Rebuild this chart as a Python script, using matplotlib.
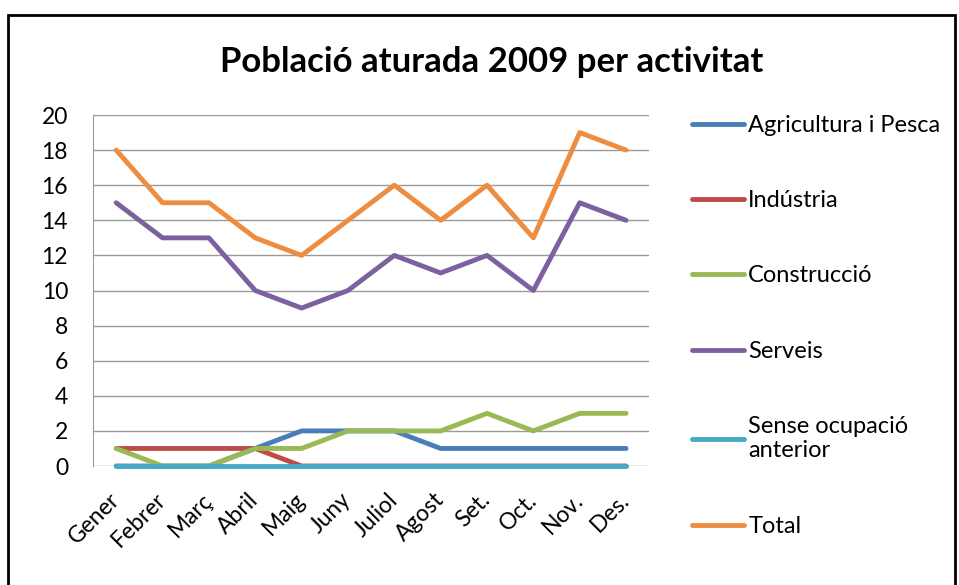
import matplotlib.pyplot as plt
from matplotlib.patches import Rectangle

months = ['Gener', 'Febrer', 'Març', 'Abril', 'Maig', 'Juny', 'Juliol',
          'Agost', 'Set.', 'Oct.', 'Nov.', 'Des.']
agricultura = [0, 0, 0, 1, 2, 2, 2, 1, 1, 1, 1, 1]
industria = [1, 1, 1, 1, 0, 0, 0, 0, 0, 0, 0, 0]
construccio = [1, 0, 0, 1, 1, 2, 2, 2, 3, 2, 3, 3]
serveis = [15, 13, 13, 10, 9, 10, 12, 11, 12, 10, 15, 14]
sense_ocupacio = [0, 0, 0, 0, 0, 0, 0, 0, 0, 0, 0, 0]
total = [18, 15, 15, 13, 12, 14, 16, 14, 16, 13, 19, 18]

plt.rcParams['font.family'] = ['Lato', 'DejaVu Sans']

fig = plt.figure(figsize=(9.59, 5.85), dpi=100)
ax = fig.add_axes([0.097, 0.2034, 0.58, 0.6])

series = [
    (agricultura, 'Agricultura i Pesca', '#4A7EBB'),
    (industria, 'Indústria', '#BE4B48'),
    (construccio, 'Construcció', '#98B954'),
    (serveis, 'Serveis', '#7D60A0'),
    (sense_ocupacio, 'Sense ocupació\nanterior', '#46AAC5'),
    (total, 'Total', '#EE8C3F'),
]
x = range(len(months))
for vals, label, color in series:
    ax.plot(x, vals, color=color, lw=3.5, label=label,
            solid_capstyle='round', clip_on=False)

ax.set_xlim(-0.5, len(months) - 0.5)
ax.set_ylim(0, 20)
ax.set_yticks(range(0, 21, 2))
ax.yaxis.grid(True, color='#9a9a9a', lw=1)
ax.set_axisbelow(True)
for s in ['top', 'right', 'bottom']:
    ax.spines[s].set_visible(False)
ax.spines['left'].set_color('#9a9a9a')
ax.set_xticks(list(x))
ax.set_xticklabels(months, rotation=45, ha='right', va='center',
                   rotation_mode='anchor')
ax.tick_params(axis='both', length=0, labelsize=16.5)
ax.tick_params(axis='y', pad=18)
ax.tick_params(axis='x', pad=22)

ax.legend(loc='upper left', bbox_to_anchor=(1.039, 1.061), frameon=False,
          fontsize=17, labelspacing=2.3, handlelength=2.2, handletextpad=0.17)

fig.text(0.513, 0.894, 'Població aturada 2009 per activitat', ha='center',
         va='center', fontsize=25, fontweight='bold')

fig.patches.append(Rectangle((0.008, -0.01), 0.988, 0.985, transform=fig.transFigure,
                             fill=False, edgecolor='black', lw=2))

fig.savefig('out.png', dpi=100)
